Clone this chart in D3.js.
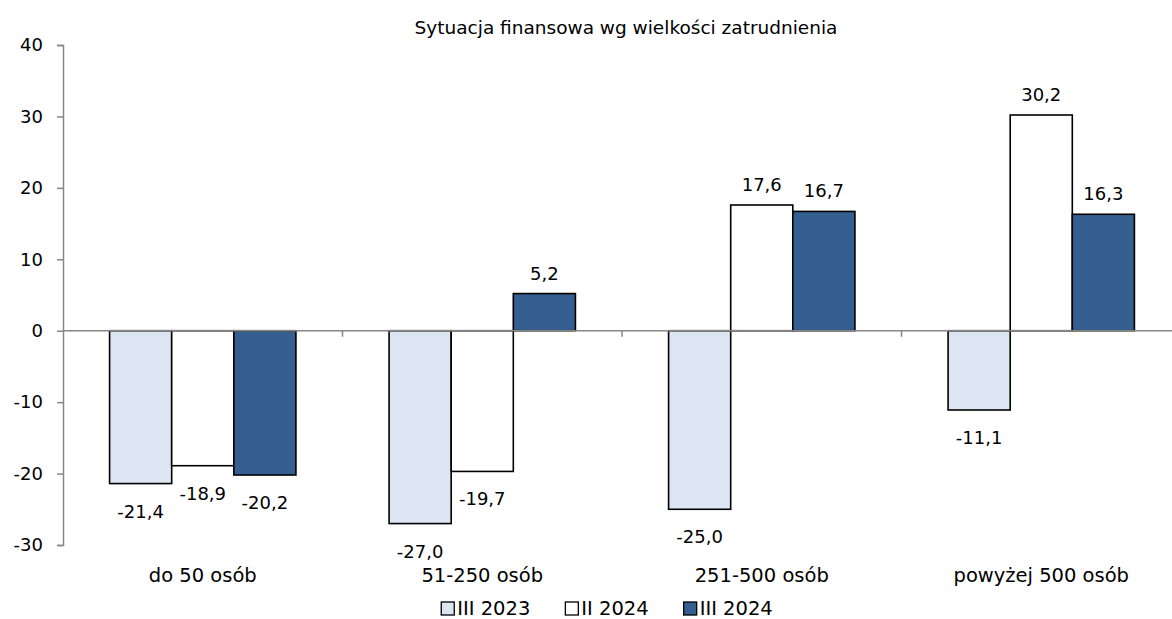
<!DOCTYPE html>
<html>
<head>
<meta charset="utf-8">
<script src="https://cdn.jsdelivr.net/npm/d3@7"></script>
<style>
  html, body { margin: 0; padding: 0; background: #fff; }
  svg { display: block; font-family: "DejaVu Sans", Verdana, sans-serif; }
</style>
</head>
<body>
<svg id="chart" width="1172" height="619"></svg>
<script>
// Saldo oceny sytuacji finansowej wg wielkości zatrudnienia
const title = "Sytuacja finansowa wg wielkości zatrudnienia";
const categories = ["do 50 osób", "51-250 osób", "251-500 osób", "powyżej 500 osób"];
const seriesNames = ["III 2023", "II 2024", "III 2024"];
const valuesIII2023 = [-21.4, -27.0, -25.0, -11.1];
const valuesII2024 = [-18.9, -19.7, 17.6, 30.2];
const valuesIII2024 = [-20.2, 5.2, 16.7, 16.3];
const yTicks = [-30, -20, -10, 0, 10, 20, 30, 40];

const seriesValues = [valuesIII2023, valuesII2024, valuesIII2024];
const fills = ["#dce6f2", "#ffffff", "#365f91"];

const W = 1172, H = 619;
const plot = { left: 63, right: 1181, top: 45, bottom: 545 };

const pl = d3.formatLocale({ decimal: ",", thousands: " ", grouping: [3], currency: ["", " zł"], minus: "-" });
const fmt1 = pl.format(".1f");
const fmt0 = pl.format("d");

const svg = d3.select("#chart");

const y = d3.scaleLinear().domain([-30, 40]).range([plot.bottom, plot.top]);
const x0 = d3.scaleBand().domain(categories).range([plot.left, plot.right]).padding(0);
const x1 = d3.scaleBand().domain(seriesNames).range([0, x0.bandwidth()])
  .paddingInner(0).paddingOuter(0.75);

const axisColor = "#868686";

// Title
svg.append("text")
  .attr("x", 626).attr("y", 34)
  .attr("text-anchor", "middle")
  .style("font-size", "18.5px")
  .attr("fill", "#000")
  .text(title);

// Y axis
const yAxis = svg.append("g")
  .attr("transform", `translate(${plot.left},0)`)
  .call(d3.axisLeft(y).tickValues(yTicks).tickSize(6).tickPadding(14).tickFormat(fmt0));
yAxis.select(".domain").attr("stroke", axisColor).attr("stroke-width", 1.5);
yAxis.selectAll(".tick line").attr("stroke", axisColor).attr("stroke-width", 1.5);
yAxis.selectAll(".tick text")
  .attr("fill", "#000")
  .style("font-size", "18px")
  .style("font-family", "DejaVu Sans, Verdana, sans-serif");

// Bars
const groups = svg.append("g").selectAll("g")
  .data(categories)
  .join("g")
  .attr("transform", d => `translate(${x0(d)},0)`);

const barData = (c, ci) => seriesNames.map((s, si) => ({ s, si, v: seriesValues[si][ci] }));

groups.selectAll("rect")
  .data((c, ci) => barData(c, ci))
  .join("rect")
  .attr("x", d => x1(d.s))
  .attr("width", x1.bandwidth())
  .attr("y", d => y(Math.max(0, d.v)))
  .attr("height", d => Math.abs(y(d.v) - y(0)))
  .attr("fill", d => fills[d.si])
  .attr("stroke", "#000")
  .attr("stroke-width", 1.6);

// Zero line with category tick marks
const xAxis = svg.append("g");
xAxis.append("line")
  .attr("x1", plot.left).attr("x2", W)
  .attr("y1", y(0)).attr("y2", y(0))
  .attr("stroke", axisColor).attr("stroke-width", 1.5);
xAxis.selectAll(".ctick")
  .data(categories.slice(1))
  .join("line")
  .attr("x1", d => x0(d)).attr("x2", d => x0(d))
  .attr("y1", y(0)).attr("y2", y(0) + 6)
  .attr("stroke", axisColor).attr("stroke-width", 1.5);

// Value labels
groups.selectAll("text.val")
  .data((c, ci) => barData(c, ci))
  .join("text")
  .attr("class", "val")
  .attr("x", d => x1(d.s) + x1.bandwidth() / 2)
  .attr("y", d => d.v >= 0 ? y(d.v) - 14 : y(d.v) + 34)
  .attr("text-anchor", "middle")
  .style("font-size", "18px")
  .attr("fill", "#000")
  .text(d => fmt1(d.v));

// Category labels
svg.append("g").selectAll("text")
  .data(categories)
  .join("text")
  .attr("x", d => x0(d) + x0.bandwidth() / 2)
  .attr("y", 582)
  .attr("text-anchor", "middle")
  .style("font-size", "19.5px")
  .attr("fill", "#000")
  .text(d => d);

// Legend
const legend = svg.append("g");
const items = legend.selectAll("g")
  .data(seriesNames)
  .join("g");
items.append("rect")
  .attr("x", 0).attr("y", -13)
  .attr("width", 13).attr("height", 13)
  .attr("fill", (d, i) => fills[i])
  .attr("stroke", "#000").attr("stroke-width", 1.3);
items.append("text")
  .attr("x", 16).attr("y", 0)
  .style("font-size", "19.5px")
  .attr("fill", "#000")
  .text(d => d);
let off = 0;
items.each(function () {
  const g = d3.select(this);
  g.attr("transform", `translate(${off},0)`);
  off += 16 + g.select("text").node().getComputedTextLength() + 35;
});
const totalW = off - 35;
legend.attr("transform", `translate(${607 - totalW / 2},615)`);
</script>
</body>
</html>
